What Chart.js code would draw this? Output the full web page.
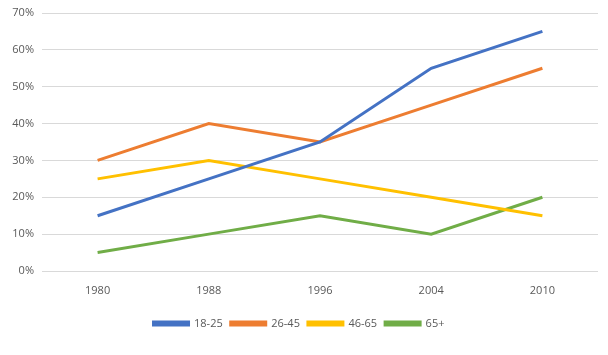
<!DOCTYPE html>
<html><head><meta charset="utf-8">
<script src="https://cdn.jsdelivr.net/npm/chart.js@4/dist/chart.umd.min.js"></script>
<style>html,body{margin:0;padding:0;background:#fff;}#wrap{width:608px;height:355px;}</style>
</head><body><div id="wrap"><canvas id="c" width="608" height="355"></canvas></div>
<script>
const categories = ["1980","1988","1996","2004","2010"];
const s18_25 = [15,25,35,55,65];
const s26_45 = [30,40,35,45,55];
const s46_65 = [25,30,25,20,15];
const s65p = [5,10,15,10,20];
const seriesNames = ["18-25","26-45","46-65","65+"];
const colors = ["#4472C4","#ED7D31","#FFC000","#70AD47"];
const allSeries = [s18_25,s26_45,s46_65,s65p];
const font = {family:"'Open Sans','Liberation Sans',sans-serif", size:11};
new Chart(document.getElementById('c'),{
  type:'line',
  data:{labels:categories,datasets:allSeries.map((d,i)=>({label:seriesNames[i],data:d,borderColor:colors[i],backgroundColor:colors[i],borderWidth:3,pointRadius:0,tension:0,fill:false}))},
  options:{
    responsive:false,animation:false,
    layout:{padding:{left:0,right:10,top:13,bottom:16}},
    plugins:{
      legend:{position:'bottom',labels:{boxWidth:35,boxHeight:3,color:'#595959',font:font,padding:8}},
      tooltip:{enabled:false}
    },
    scales:{
      x:{offset:true,grid:{display:false,drawTicks:false},border:{display:false},ticks:{color:'#595959',font:font,padding:13},
         afterFit:(s)=>{s.height=39;s.paddingLeft=0;s.paddingRight=0;}},
      y:{min:0,max:70,ticks:{stepSize:10,color:'#595959',font:font,padding:8,callback:v=>v+'%'},grid:{color:'#d9d9d9',drawTicks:false,lineWidth:1},border:{display:false},
         afterFit:(s)=>{s.width=42;s.paddingTop=0;s.paddingBottom=0;}}
    }
  }
});
</script></body></html>
